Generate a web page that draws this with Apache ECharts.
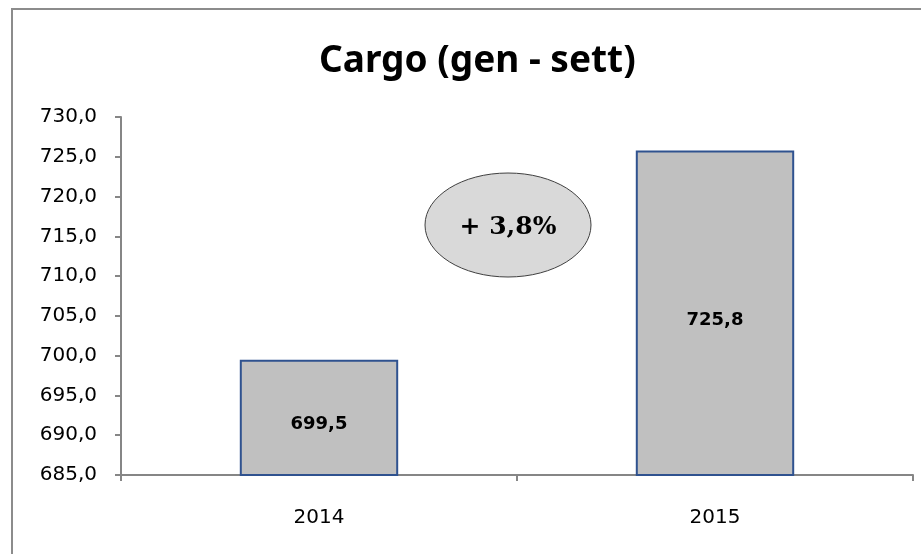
<!DOCTYPE html>
<html>
<head>
<meta charset="utf-8">
<script src="https://cdn.jsdelivr.net/npm/echarts@6/dist/echarts.min.js"></script>
<style>
html,body{margin:0;padding:0;background:#fff;}
#main{width:921px;height:554px;}
</style>
</head>
<body>
<div id="main"></div>
<script>
const years = ['2014', '2015'];
const cargo = [699.5, 725.8];
const yMin = 685, yMax = 730, yStep = 5;
const changeLabel = '+ 3,8%';

const comma = (v) => v.toFixed(1).replace('.', ',');

const chart = echarts.init(document.getElementById('main'));
chart.setOption({
    backgroundColor: '#fff',
    animation: false,
    title: {
        text: 'Cargo (gen - sett)',
        left: 314,
        top: 38,
        textStyle: {fontFamily: 'Noto Sans', fontWeight: 'bold', fontSize: 37, color: '#000'}
    },
    grid: {left: 121, right: 8, top: 117, bottom: 79},
    xAxis: {
        type: 'category',
        data: years,
        axisLine: {lineStyle: {color: '#868686', width: 2}},
        axisTick: {show: true, length: 6, lineStyle: {color: '#868686', width: 2}},
        axisLabel: {fontFamily: 'DejaVu Sans', fontSize: 20, color: '#000', margin: 33}
    },
    yAxis: {
        type: 'value',
        min: yMin,
        max: yMax,
        interval: yStep,
        splitLine: {show: false},
        axisLine: {show: true, lineStyle: {color: '#868686', width: 2}},
        axisTick: {show: true, length: 6, lineStyle: {color: '#868686', width: 2}},
        axisLabel: {fontFamily: 'DejaVu Sans', fontSize: 20, color: '#000', margin: 24, formatter: comma}
    },
    series: [{
        type: 'bar',
        data: cargo,
        barWidth: '40%',
        itemStyle: {color: '#c0c0c0', borderColor: '#2f528f', borderWidth: 2},
        label: {
            show: true,
            position: 'inside',
            offset: [0, 7],
            formatter: (p) => comma(p.value),
            fontFamily: 'DejaVu Sans',
            fontWeight: 'bold',
            fontSize: 18,
            color: '#000'
        }
    }],
    graphic: [
        {
            type: 'rect',
            shape: {x: 12, y: 9, width: 920, height: 560},
            style: {fill: 'none', stroke: '#8c8c8c', lineWidth: 2},
            silent: true
        },
        {
            type: 'ellipse',
            shape: {cx: 508, cy: 225, rx: 83, ry: 52},
            style: {fill: '#d9d9d9', stroke: '#404040', lineWidth: 1}
        },
        {
            type: 'text',
            x: 508,
            y: 227,
            style: {
                text: changeLabel,
                align: 'center',
                verticalAlign: 'middle',
                font: 'bold 25px "DejaVu Serif"',
                fill: '#000'
            }
        }
    ]
});
</script>
</body>
</html>
